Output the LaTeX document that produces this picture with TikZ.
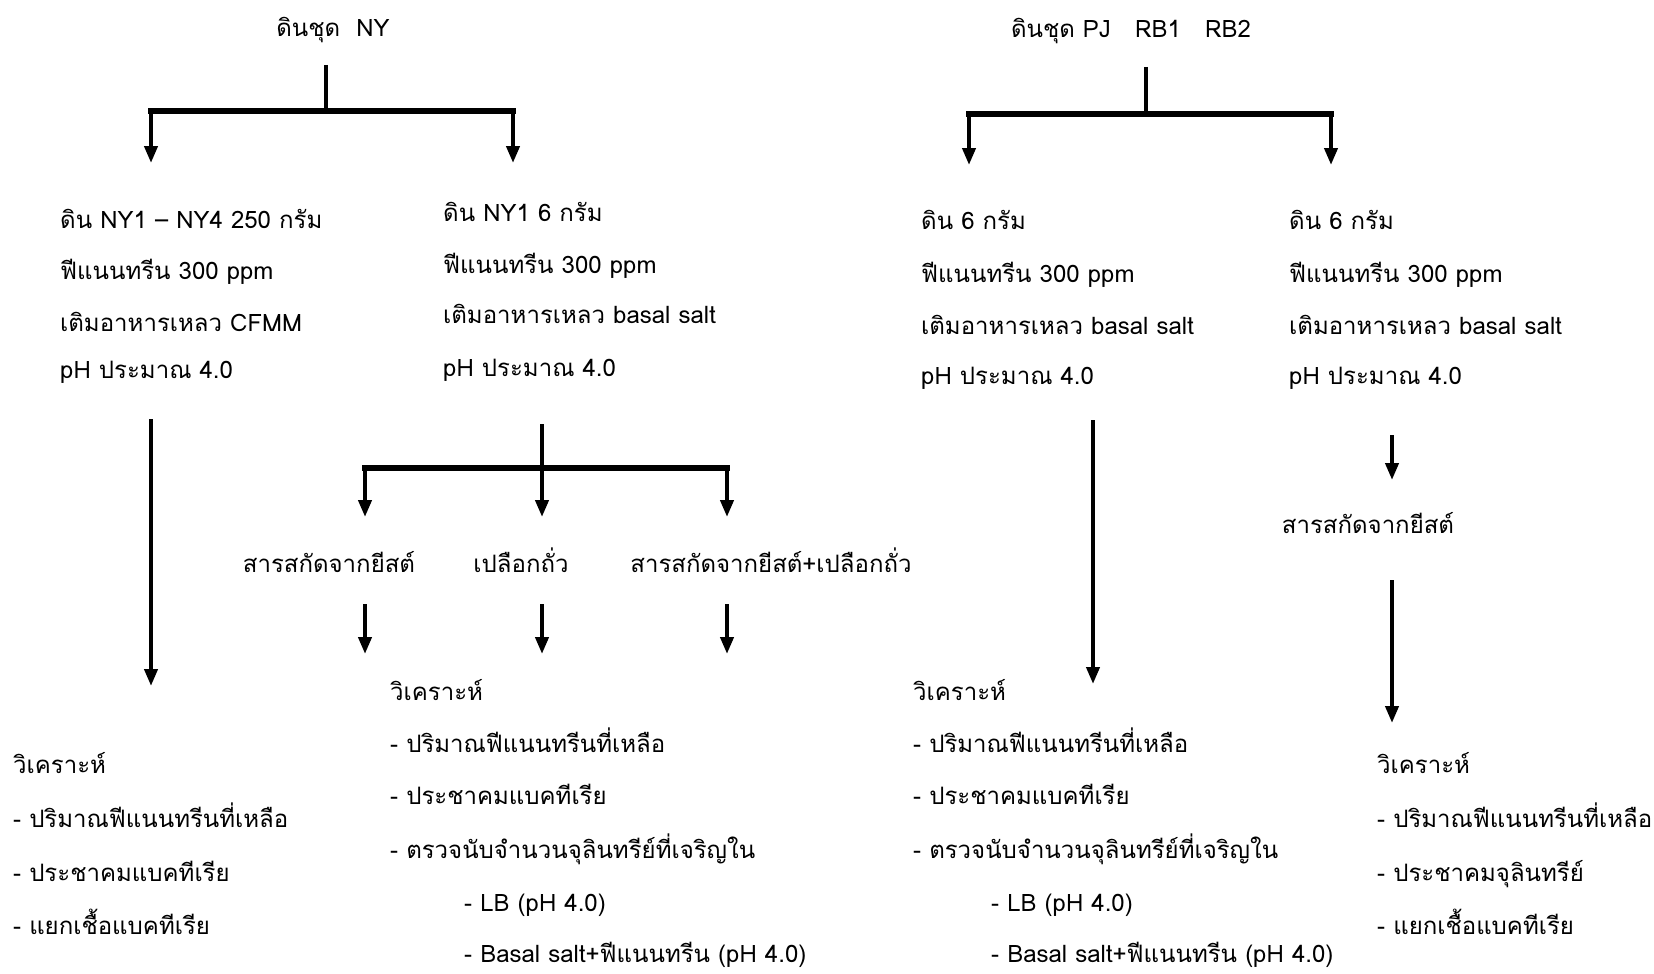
\documentclass[tikz,border=0pt]{standalone}
\usepackage{fontspec}
\setmainfont[Script=Thai]{Loma}
\usetikzlibrary{arrows.meta}
\tikzset{
  txt/.style={anchor=west,inner sep=0pt,text height=16pt,text depth=6pt,font=\fontsize{24}{28}\selectfont},
  ctxt/.style={txt,anchor=center},
  stem/.style={line width=4pt},
  barline/.style={line width=6pt,line cap=rect},
  arr/.style={line width=4pt,-{Triangle[length=17pt,width=13pt]}},
}
\begin{document}
\begin{tikzpicture}[x=1pt,y=-1pt]
\useasboundingbox[fill=white] (0,0) rectangle (1654,974);
% titles
\node[ctxt] (tNY) at (333,32) {ดินชุด\ \ NY};
\node[ctxt] (tPJ) at (1131,33) {ดินชุด PJ\ \ \ RB1\ \ \ RB2};
% NY tree
\coordinate (nyTop) at (326,65);
\coordinate (nyJ) at (326,111);
\coordinate (nyL) at (151,111);
\coordinate (nyR) at (513,111);
\coordinate (nyLt) at (151,163);
\coordinate (nyRt) at (513,163);
\draw[stem] (nyTop) -- (nyJ);
\draw[barline] (nyL) -- (nyR);
\draw[arr] (nyL) -- (nyLt);
\draw[arr] (nyR) -- (nyRt);
% PJ tree
\coordinate (pjTop) at (1146,67);
\coordinate (pjJ) at (1146,114);
\coordinate (pjL) at (969,114);
\coordinate (pjR) at (1331,114);
\coordinate (pjLt) at (969,165);
\coordinate (pjRt) at (1331,165);
\draw[stem] (pjTop) -- (pjJ);
\draw[barline] (pjL) -- (pjR);
\draw[arr] (pjL) -- (pjLt);
\draw[arr] (pjR) -- (pjRt);
% column A
\node[txt] (a1) at (60,223) {ดิน NY1 – NY4 250 กรัม};
\node[txt] (a2) at (60,274) {ฟีแนนทรีน 300 ppm};
\node[txt] (a3) at (60,326) {เติมอาหารเหลว CFMM};
\node[txt] (a4) at (60,373) {pH ประมาณ 4.0};
% column B
\node[txt] (b1) at (443,216) {ดิน NY1 6 กรัม};
\node[txt] (b2) at (443,268) {ฟีแนนทรีน 300 ppm};
\node[txt] (b3) at (443,318) {เติมอาหารเหลว basal salt};
\node[txt] (b4) at (443,371) {pH ประมาณ 4.0};
% column C
\node[txt] (c1) at (921,224) {ดิน 6 กรัม};
\node[txt] (c2) at (921,277) {ฟีแนนทรีน 300 ppm};
\node[txt] (c3) at (921,329) {เติมอาหารเหลว basal salt};
\node[txt] (c4) at (921,379) {pH ประมาณ 4.0};
% column D
\node[txt] (d1) at (1289,224) {ดิน 6 กรัม};
\node[txt] (d2) at (1289,277) {ฟีแนนทรีน 300 ppm};
\node[txt] (d3) at (1289,329) {เติมอาหารเหลว basal salt};
\node[txt] (d4) at (1289,379) {pH ประมาณ 4.0};
% arrow A
\coordinate (aS) at (151,419);
\coordinate (aE) at (151,686);
\draw[arr] (aS) -- (aE);
% analysis A
\node[txt] (aa0) at (13,768) {วิเคราะห์};
\node[txt] (aa1) at (13,822) {- ปริมาณฟีแนนทรีนที่เหลือ};
\node[txt] (aa2) at (13,876) {- ประชาคมแบคทีเรีย};
\node[txt] (aa3) at (13,929) {- แยกเชื้อแบคทีเรีย};
% B tree
\coordinate (bTop) at (542,424);
\coordinate (bJ) at (542,468);
\coordinate (bL) at (365,468);
\coordinate (bR) at (727,468);
\coordinate (bLt) at (365,517);
\coordinate (bMt) at (542,517);
\coordinate (bRt) at (727,517);
\draw[stem] (bTop) -- (bJ);
\draw[barline] (bL) -- (bR);
\draw[arr] (bL) -- (bLt);
\draw[arr] (bJ) -- (bMt);
\draw[arr] (bR) -- (bRt);
\node[ctxt] (s1) at (329,567) {สารสกัดจากยีสต์};
\node[ctxt] (s2) at (521,567) {เปลือกถั่ว};
\node[ctxt] (s3) at (771,567) {สารสกัดจากยีสต์+เปลือกถั่ว};
\coordinate (s1a) at (365,604);
\coordinate (s1b) at (365,654);
\coordinate (s2a) at (542,604);
\coordinate (s2b) at (542,654);
\coordinate (s3a) at (727,604);
\coordinate (s3b) at (727,654);
\draw[arr] (s1a) -- (s1b);
\draw[arr] (s2a) -- (s2b);
\draw[arr] (s3a) -- (s3b);
% analysis B
\node[txt] (ba0) at (390,695) {วิเคราะห์};
\node[txt] (ba1) at (390,747) {- ปริมาณฟีแนนทรีนที่เหลือ};
\node[txt] (ba2) at (390,799) {- ประชาคมแบคทีเรีย};
\node[txt] (ba3) at (390,853) {- ตรวจนับจำนวนจุลินทรีย์ที่เจริญใน};
\node[txt] (ba4) at (464,906) {- LB (pH 4.0)};
\node[txt] (ba5) at (464,957) {- Basal salt+ฟีแนนทรีน (pH 4.0)};
% arrow C
\coordinate (cS) at (1093,420);
\coordinate (cE) at (1093,684);
\draw[arr] (cS) -- (cE);
% analysis C
\node[txt] (ca0) at (913,695) {วิเคราะห์};
\node[txt] (ca1) at (913,747) {- ปริมาณฟีแนนทรีนที่เหลือ};
\node[txt] (ca2) at (913,799) {- ประชาคมแบคทีเรีย};
\node[txt] (ca3) at (913,853) {- ตรวจนับจำนวนจุลินทรีย์ที่เจริญใน};
\node[txt] (ca4) at (991,906) {- LB (pH 4.0)};
\node[txt] (ca5) at (991,957) {- Basal salt+ฟีแนนทรีน (pH 4.0)};
% column D arrows
\coordinate (dS) at (1392,435);
\coordinate (dE) at (1392,480);
\draw[arr] (dS) -- (dE);
\node[ctxt] (ds) at (1368,528) {สารสกัดจากยีสต์};
\coordinate (dS2) at (1392,580);
\coordinate (dE2) at (1392,723);
\draw[arr] (dS2) -- (dE2);
% analysis D
\node[txt] (da0) at (1377,768) {วิเคราะห์};
\node[txt] (da1) at (1377,822) {- ปริมาณฟีแนนทรีนที่เหลือ};
\node[txt] (da2) at (1377,876) {- ประชาคมจุลินทรีย์};
\node[txt] (da3) at (1377,929) {- แยกเชื้อแบคทีเรีย};
\end{tikzpicture}
\end{document}
